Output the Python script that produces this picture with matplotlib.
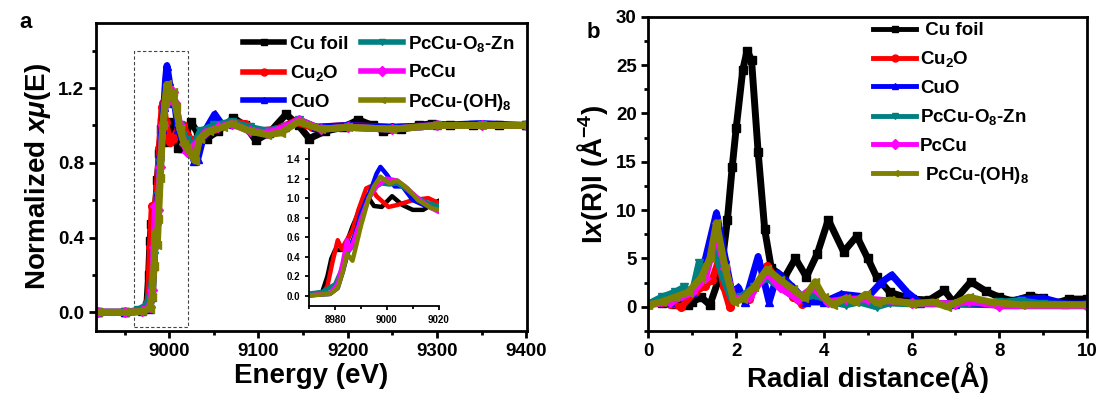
import numpy as np
import matplotlib
matplotlib.use('Agg')
import matplotlib.pyplot as plt
from matplotlib.patches import Rectangle
from matplotlib.ticker import MultipleLocator

plt.rcParams['font.family'] = ['Liberation Sans', 'DejaVu Sans']
plt.rcParams['font.weight'] = 'bold'
plt.rcParams['mathtext.fontset'] = 'custom'
plt.rcParams['mathtext.rm'] = 'Liberation Sans:bold'
plt.rcParams['mathtext.bf'] = 'Liberation Sans:bold'
plt.rcParams['mathtext.it'] = 'Liberation Sans:bold:italic'

# ---------------- XANES (panel a) ----------------
e_foil = [8920, 8950, 8970, 8975, 8977, 8978.5, 8980, 8982.5, 8984.5, 8986.7, 8989, 8991, 8992.5,
          8995, 8998, 9002, 9006, 9010, 9014, 9019, 9024, 9032, 9042, 9055, 9072, 9085, 9097, 9112,
          9131, 9145, 9157, 9175, 9195, 9212, 9228, 9240, 9260, 9280, 9295, 9315, 9340, 9370, 9400]
mu_foil = [0, 0, 0.01, 0.04, 0.2, 0.38, 0.47, 0.47, 0.55, 0.71, 0.85, 0.98, 1.02,
           0.92, 0.91, 1.02, 0.93, 0.88, 0.88, 0.96, 1.02, 0.96, 0.93, 0.97, 1.04, 1.0, 0.92, 0.96,
           1.06, 1.0, 0.93, 0.97, 0.99, 1.03, 1.0, 0.97, 0.98, 1.0, 1.01, 1.0, 1.0, 1.0, 1.0]

e_cu2o = [8920, 8950, 8970, 8975, 8977, 8979, 8981, 8982.5, 8984, 8986.7, 8989, 8992, 8993.6,
          8996, 9000.6, 9004, 9010, 9016, 9020, 9026, 9035, 9050, 9070, 9085, 9100, 9120, 9140,
          9160, 9200, 9250, 9300, 9350, 9400]
mu_cu2o = [0, 0, 0.005, 0.02, 0.1, 0.35, 0.57, 0.48, 0.55, 0.67, 0.88, 1.10, 1.12,
           1.02, 0.91, 0.93, 0.98, 1.0, 0.95, 0.92, 0.94, 0.98, 1.02, 1.01, 0.97, 0.98, 1.02,
           0.99, 1.0, 0.99, 1.0, 1.0, 1.0]

e_cuo = [8920, 8950, 8970, 8978, 8981, 8983, 8985, 8986.5, 8988, 8990, 8992, 8994, 8996, 8997.5,
         9000, 9003, 9006, 9010, 9015, 9020, 9024, 9028, 9032, 9040, 9051, 9060, 9072, 9090, 9110,
         9130, 9145, 9165, 9200, 9250, 9300, 9350, 9400]
mu_cuo = [0, 0, 0.005, 0.02, 0.08, 0.25, 0.45, 0.55, 0.65, 0.85, 0.98, 1.1, 1.25, 1.32,
          1.24, 1.12, 1.12, 0.98, 0.92, 0.9, 0.86, 0.81, 0.82, 0.97, 1.06, 1.0, 1.01, 0.98, 0.97,
          0.99, 1.03, 0.99, 1.0, 0.99, 1.0, 1.01, 1.0]

e_zn = [8920, 8950, 8965, 8975, 8980, 8983, 8985, 8986.5, 8988, 8990, 8993, 8996, 8998, 9001,
        9004, 9007, 9012, 9016, 9020, 9025, 9028, 9035, 9050, 9070, 9090, 9110, 9130, 9145, 9170,
        9200, 9250, 9300, 9350, 9400]
mu_zn = [0, 0, 0.01, 0.04, 0.12, 0.3, 0.45, 0.5, 0.62, 0.8, 1.0, 1.12, 1.15, 1.14,
         1.15, 1.1, 1.0, 0.95, 0.92, 0.9, 0.9, 0.97, 1.0, 1.02, 0.99, 0.97, 0.99, 1.03, 0.98,
         0.99, 0.98, 1.0, 1.0, 1.0]

e_pccu = [8920, 8950, 8970, 8978, 8981, 8983, 8984.6, 8985.5, 8987, 8990, 8993, 8996, 9000,
          9004, 9007, 9012, 9017, 9020, 9025, 9030, 9040, 9055, 9070, 9090, 9110, 9130, 9145,
          9170, 9200, 9250, 9300, 9350, 9400]
mu_pccu = [0, 0, 0.005, 0.03, 0.12, 0.35, 0.57, 0.47, 0.55, 0.78, 1.0, 1.12, 1.2,
           1.18, 1.12, 1.0, 0.9, 0.86, 0.88, 0.9, 0.96, 0.99, 1.01, 0.97, 0.96, 0.99, 1.03,
           0.98, 0.99, 0.98, 1.0, 1.0, 1.0]

e_oh = [8920, 8950, 8970, 8978, 8981, 8983, 8984.6, 8986.7, 8988, 8990, 8993, 8995, 8997.5,
        9001, 9004, 9008, 9012, 9017, 9020, 9024, 9029, 9034, 9045, 9060, 9070, 9090, 9110,
        9125, 9145, 9170, 9200, 9250, 9300, 9350, 9400]
mu_oh = [0, 0, 0.005, 0.02, 0.08, 0.25, 0.43, 0.36, 0.5, 0.72, 1.0, 1.12, 1.22,
         1.15, 1.18, 1.1, 0.98, 0.9, 0.88, 0.85, 0.81, 0.93, 0.97, 0.99, 1.01, 0.97, 0.95,
         0.96, 1.02, 0.98, 0.99, 0.98, 1.0, 1.0, 1.0]

# ---------------- EXAFS |chi(R)| (panel b) ----------------
r_foil = [0, 0.3, 0.6, 0.9, 1.0, 1.2, 1.4, 1.65, 1.8, 1.91, 2.0, 2.15, 2.25, 2.35, 2.5, 2.65,
          2.8, 3.1, 3.35, 3.6, 3.85, 4.1, 4.45, 4.75, 5.0, 5.2, 5.5, 6.0, 6.4, 6.75, 6.95, 7.35,
          7.7, 8.0, 8.3, 8.7, 9.0, 9.3, 9.6, 10.0]
chi_foil = [0.3, 0.4, 0.3, 0.2, 0.5, 1.0, 0.2, 3.5, 9.0, 14.5, 18.5, 24.5, 26.5, 25.5, 16.0, 8.0,
            4.0, 3.0, 5.0, 3.1, 5.5, 9.0, 5.7, 7.3, 5.0, 3.1, 1.5, 0.8, 0.7, 1.7, 0.5, 2.6,
            1.6, 1.0, 0.6, 1.1, 0.9, 0.4, 0.8, 0.8]

r_cu2o = [0, 0.3, 0.5, 0.75, 1.05, 1.3, 1.45, 1.6, 1.72, 1.85, 2.0, 2.3, 2.7, 3.0, 3.3, 3.5,
          3.8, 4.2, 4.5, 5.0, 6.0, 7.0, 8.0, 10.0]
chi_cu2o = [0.3, 0.5, 0.3, 0.0, 1.5, 2.2, 2.8, 4.8, 2.0, 0.0, 1.0, 0.8, 4.2, 2.5, 1.0, 0.3,
            0.8, 0.5, 0.8, 0.5, 0.4, 0.3, 0.2, 0.2]

r_cuo = [0, 0.5, 1.0, 1.3, 1.55, 1.75, 1.9, 2.05, 2.2, 2.5, 2.75, 2.95, 3.3, 3.6, 4.0, 4.4,
         5.0, 5.3, 5.55, 5.9, 6.2, 7.0, 8.0, 8.5, 9.0, 9.5, 10.0]
chi_cuo = [0.3, 0.5, 1.5, 5.0, 9.7, 5.0, 1.5, 2.0, 0.5, 5.2, 0.5, 3.5, 2.0, 0.5, 0.5, 1.3,
           1.0, 2.5, 3.3, 1.5, 0.4, 0.3, 0.3, 0.8, 0.9, 0.3, 0.3]

r_zn = [0, 0.3, 0.6, 0.8, 1.0, 1.15, 1.3, 1.5, 1.7, 1.9, 2.1, 2.4, 2.7, 3.0, 3.4, 3.8, 4.2,
        4.5, 4.8, 5.2, 5.5, 6.0, 7.0, 8.0, 8.5, 9.0, 10.0]
chi_zn = [0.3, 1.0, 1.5, 2.0, 1.5, 4.5, 3.8, 6.0, 3.0, 0.8, 1.0, 2.0, 3.0, 2.0, 0.8, 1.2, 0.5,
          0.2, 0.5, 0.0, 0.4, 0.3, 0.3, 0.5, 0.6, 0.3, 0.2]

r_pccu = [0, 0.5, 1.0, 1.3, 1.55, 1.75, 1.95, 2.3, 2.7, 3.0, 3.4, 3.75, 4.1, 4.5, 5.0, 6.0,
          7.0, 7.3, 8.0, 10.0]
chi_pccu = [0.2, 0.5, 1.5, 3.0, 7.5, 4.0, 0.8, 1.0, 3.5, 2.0, 0.8, 2.0, 0.5, 0.8, 0.8, 0.4,
            0.3, 0.6, 0.1, 0.1]

r_oh = [0, 0.3, 0.6, 0.9, 1.2, 1.4, 1.55, 1.75, 1.95, 2.15, 2.4, 2.7, 3.0, 3.3, 3.55, 3.8,
        4.0, 4.2, 4.5, 4.7, 4.95, 5.2, 5.5, 6.0, 6.5, 6.8, 7.3, 7.8, 8.5, 10.0]
chi_oh = [0.2, 0.5, 1.0, 1.5, 3.0, 5.0, 8.7, 4.0, 0.5, 0.8, 2.0, 3.9, 2.8, 1.8, 0.9, 2.6,
          1.0, 0.2, 0.9, 0.5, 1.3, 0.4, 0.7, 0.3, 0.5, 0.0, 1.0, 0.5, 0.2, 0.2]

labels = ['Cu foil', 'Cu$_2$O', 'CuO', 'PcCu-O$_8$-Zn', 'PcCu', 'PcCu-(OH)$_8$']
labels_b = [' Cu foil', 'Cu$_2$O', 'CuO', 'PcCu-O$_8$-Zn', 'PcCu', ' PcCu-(OH)$_8$']
colors = ['black', '#ff0000', '#0000ff', '#008080', '#ff00ff', '#808000']
markers = ['s', 'o', '^', 'v', 'D', '<']

xanes = [(e_foil, mu_foil), (e_cu2o, mu_cu2o), (e_cuo, mu_cuo),
         (e_zn, mu_zn), (e_pccu, mu_pccu), (e_oh, mu_oh)]
exafs = [(r_foil, chi_foil), (r_cu2o, chi_cu2o), (r_cuo, chi_cuo),
         (r_zn, chi_zn), (r_pccu, chi_pccu), (r_oh, chi_oh)]

# region shown magnified in the inset
zoom_lo, zoom_hi = 8961, 9021
zoom_bottom, zoom_top = -0.077, 1.396

fig = plt.figure(figsize=(11.01, 4), dpi=100)
ax1 = fig.add_axes([0.0872, 0.1725, 0.3915, 0.7708])
ax2 = fig.add_axes([0.589, 0.1725, 0.3983, 0.7858])
axin = fig.add_axes([0.2809, 0.2358, 0.1175, 0.391])


def style_axes(ax, size=13.5, lw=2.0):
    for side in ['top', 'right', 'left', 'bottom']:
        ax.spines[side].set_linewidth(lw)
    ax.tick_params(which='both', direction='out', top=False, right=False, width=lw,
                   labelsize=size)
    ax.tick_params(which='major', length=5)
    ax.tick_params(which='minor', length=3)
    for t in ax.get_xticklabels() + ax.get_yticklabels():
        t.set_fontweight('bold')


for (x, y), c, m, lab in zip(xanes, colors, markers, labels):
    ax1.plot(x, y, color=c, lw=5, marker=m, ms=5.5, mec=c, label=lab)
ax1.set_xlim(8918, 9401)
ax1.set_ylim(-0.1, 1.55)
ax1.xaxis.set_major_locator(MultipleLocator(100))
ax1.xaxis.set_minor_locator(MultipleLocator(50))
ax1.yaxis.set_major_locator(MultipleLocator(0.4))
ax1.yaxis.set_minor_locator(MultipleLocator(0.2))
ax1.set_xlabel('Energy (eV)', fontsize=20, fontweight='bold', labelpad=2)
ax1.set_ylabel(r'Normalized $x\mu$(E)', fontsize=20, fontweight='bold', labelpad=4)
style_axes(ax1)
ax1.add_patch(Rectangle((zoom_lo, zoom_bottom), zoom_hi - zoom_lo, zoom_top - zoom_bottom,
                        fill=False, ls=(0, (3, 2)), lw=0.8, ec='#444444'))
leg1 = ax1.legend(ncol=2, loc='upper left', bbox_to_anchor=(0.2207, 0.915),
                  bbox_transform=fig.transFigure, frameon=False,
                  handlelength=2.2, handletextpad=0.3, columnspacing=0.7,
                  labelspacing=0.55, borderpad=0, borderaxespad=0, numpoints=1,
                  prop={'weight': 'bold', 'size': 13.5})
for h in leg1.legend_handles:
    h.set_linewidth(4)
    h.set_markersize(5)

for (x, y), c in zip(xanes, colors):
    axin.plot(x, y, color=c, lw=3.2)
axin.set_xlim(8970, 9020)
axin.set_ylim(-0.1, 1.5)
axin.xaxis.set_major_locator(MultipleLocator(20))
axin.xaxis.set_minor_locator(MultipleLocator(10))
axin.yaxis.set_major_locator(MultipleLocator(0.2))
axin.spines['top'].set_visible(False)
axin.spines['right'].set_visible(False)
style_axes(axin, size=7, lw=1.3)
axin.tick_params(which='major', length=3)
axin.tick_params(which='minor', length=2)
axin.patch.set_alpha(0)

for (x, y), c, m, lab in zip(exafs, colors, markers, labels_b):
    ax2.plot(x, y, color=c, lw=5, marker=m, ms=5.5, mec=c, label=lab)
ax2.set_xlim(0, 10)
ax2.set_ylim(-2.5, 30)
ax2.xaxis.set_major_locator(MultipleLocator(2))
ax2.xaxis.set_minor_locator(MultipleLocator(1))
ax2.yaxis.set_major_locator(MultipleLocator(5))
ax2.yaxis.set_minor_locator(MultipleLocator(2.5))
ax2.set_xlabel('Radial distance(Å)', fontsize=20, fontweight='bold', labelpad=2)
ax2.set_ylabel(r'I$x$(R)I (Å$^{-4}$)', fontsize=20, fontweight='bold', labelpad=4)
style_axes(ax2)
leg2 = ax2.legend(loc='upper left', bbox_to_anchor=(0.793, 0.945),
                  bbox_transform=fig.transFigure, frameon=False,
                  handlelength=2.3, handletextpad=0.2, labelspacing=0.55,
                  borderpad=0, borderaxespad=0, numpoints=1,
                  prop={'weight': 'bold', 'size': 13.5})
for h in leg2.legend_handles:
    h.set_linewidth(3.5)
    h.set_markersize(5)

fig.text(0.018, 0.93, 'a', fontsize=16, fontweight='bold')
fig.text(0.533, 0.905, 'b', fontsize=16, fontweight='bold')

fig.savefig('out.png', dpi=100)
